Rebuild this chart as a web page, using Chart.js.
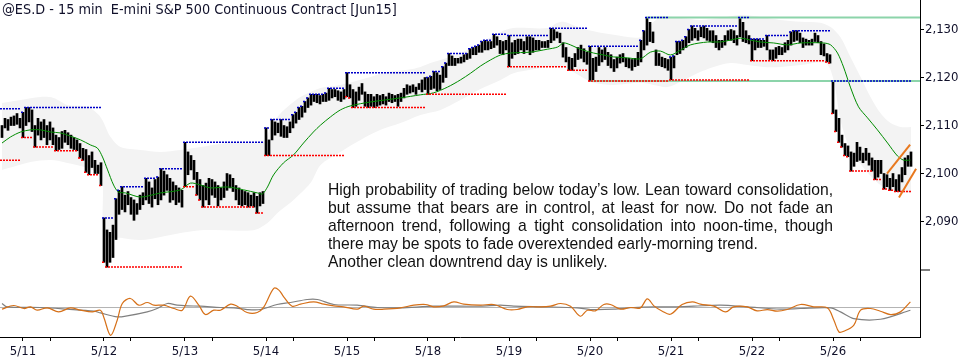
<!DOCTYPE html>
<html>
<head>
<meta charset="utf-8">
<script src="https://cdn.jsdelivr.net/npm/chart.js@4.4.1/dist/chart.umd.min.js"></script>
<style>
    html, body { margin: 0; padding: 0; background: #fff; }
</style>
</head>
<body>
<canvas id="es" width="960" height="360"></canvas>
<script>
// ---- bar data, 15 min, high / low per bar ----
var hi0508 = [2110.0, 2111.5, 2111.25, 2111.75, 2112.0, 2112.5, 2111.5];
var lo0508 = [2107.5, 2109.5, 2109.0, 2110.0, 2110.0, 2110.25, 2109.5];
var prior0508 = [2113.5, 2102.75]; // 5/8 session high / low made before the visible bars

var hi0511 = [2112.75, 2113.75, 2113.75, 2113.25, 2110.0, 2111.5, 2110.75, 2111.25, 2110.0, 2110.75, 2109.5, 2108.0, 2107.5, 2108.75, 2109.0, 2108.5, 2108.0, 2107.5, 2107.0, 2106.25, 2105.25, 2105.0, 2103.75, 2104.5, 2102.75, 2101.75, 2102.25];
var lo0511 = [2107.5, 2110.0, 2110.75, 2108.75, 2105.5, 2108.0, 2107.0, 2107.5, 2106.0, 2107.0, 2106.0, 2104.75, 2105.0, 2105.25, 2106.5, 2106.0, 2105.25, 2105.0, 2104.75, 2103.25, 2102.75, 2100.25, 2099.75, 2101.25, 2100.0, 2100.0, 2097.5];

var hi0512 = [2090.75, 2088.25, 2087.75, 2089.25, 2094.75, 2096.5, 2097.25, 2095.5, 2096.25, 2095.0, 2094.5, 2093.75, 2095.5, 2096.0, 2099.0, 2098.25, 2097.0, 2098.75, 2099.25, 2101.0, 2100.5, 2099.75, 2099.0, 2098.25, 2097.5, 2097.0, 2096.5];
var lo0512 = [2081.5, 2080.5, 2081.5, 2082.5, 2086.25, 2091.5, 2092.5, 2092.0, 2093.5, 2091.5, 2090.25, 2091.5, 2092.5, 2093.5, 2094.5, 2093.75, 2093.0, 2094.75, 2093.5, 2094.5, 2095.5, 2096.5, 2094.0, 2094.5, 2093.5, 2094.0, 2093.0];

var hi0513 = [2106.5, 2104.5, 2103.75, 2102.75, 2100.25, 2098.75, 2097.5, 2098.0, 2099.0, 2098.75, 2098.25, 2097.5, 2097.0, 2098.25, 2100.0, 2099.75, 2099.0, 2097.5, 2097.0, 2096.5, 2096.25, 2096.0, 2095.5, 2096.0, 2095.25, 2096.0, 2096.25];
var lo0513 = [2097.25, 2099.75, 2100.75, 2098.75, 2095.5, 2094.5, 2093.0, 2094.5, 2093.5, 2095.5, 2095.0, 2093.25, 2094.5, 2095.0, 2096.5, 2097.0, 2096.25, 2094.5, 2093.5, 2093.25, 2093.5, 2093.0, 2093.25, 2093.0, 2091.75, 2093.25, 2093.75];

var hi0514 = [2109.5, 2107.0, 2111.25, 2110.75, 2110.5, 2111.25, 2110.0, 2109.75, 2110.75, 2112.25, 2112.75, 2113.75, 2114.0, 2115.0, 2115.75, 2116.5, 2116.5, 2116.5, 2116.25, 2116.5, 2116.75, 2117.75, 2117.5, 2117.5, 2117.25, 2117.0, 2117.5];
var lo0514 = [2103.75, 2103.75, 2107.0, 2108.0, 2108.5, 2107.75, 2107.5, 2107.5, 2108.5, 2109.5, 2110.5, 2111.25, 2111.75, 2112.75, 2113.75, 2114.25, 2115.0, 2114.75, 2114.5, 2115.0, 2115.0, 2115.25, 2115.75, 2116.0, 2115.25, 2115.0, 2115.5];

var hi0515 = [2121.0, 2118.5, 2117.5, 2117.0, 2118.0, 2118.75, 2117.0, 2116.5, 2116.5, 2116.0, 2116.5, 2116.25, 2116.5, 2116.0, 2116.75, 2116.5, 2116.25, 2116.5, 2116.75, 2117.75, 2118.5, 2118.25, 2118.5, 2118.0, 2118.75, 2119.5, 2120.0];
var lo0515 = [2116.0, 2115.75, 2113.75, 2114.0, 2115.25, 2116.5, 2114.0, 2113.75, 2114.0, 2113.75, 2114.0, 2114.25, 2114.5, 2114.25, 2115.0, 2114.75, 2115.0, 2114.0, 2115.0, 2115.75, 2116.5, 2116.75, 2117.0, 2116.5, 2117.5, 2117.0, 2117.5];

var hi0518 = [2120.0, 2120.25, 2121.25, 2121.0, 2120.5, 2122.25, 2123.0, 2125.0, 2124.5, 2124.0, 2124.0, 2124.25, 2124.75, 2125.0, 2126.0, 2126.25, 2126.5, 2126.75, 2127.5, 2127.75, 2127.5, 2127.5, 2129.0, 2128.5, 2127.75, 2127.5, 2127.75];
var lo0518 = [2116.5, 2117.5, 2117.75, 2117.25, 2117.5, 2119.0, 2120.0, 2122.5, 2122.5, 2122.5, 2123.0, 2123.0, 2123.25, 2123.75, 2124.0, 2124.75, 2124.75, 2125.25, 2125.25, 2125.75, 2125.75, 2126.0, 2126.25, 2126.75, 2125.0, 2124.75, 2125.75];

var hi0519 = [2128.75, 2127.25, 2127.75, 2128.0, 2128.0, 2127.5, 2128.5, 2128.5, 2128.25, 2127.75, 2127.75, 2127.5, 2127.5, 2127.75, 2130.25, 2130.0, 2129.5, 2129.25, 2127.25, 2126.25, 2124.25, 2124.0, 2125.0, 2126.25, 2126.75, 2126.0, 2125.25];
var lo0519 = [2122.25, 2124.0, 2124.75, 2125.0, 2125.75, 2125.0, 2125.75, 2124.75, 2125.25, 2125.75, 2125.75, 2126.25, 2126.25, 2126.25, 2127.25, 2127.75, 2128.25, 2127.25, 2124.25, 2123.25, 2121.5, 2121.5, 2122.25, 2123.75, 2124.0, 2123.25, 2122.75];

var hi0520 = [2126.5, 2124.0, 2124.25, 2126.25, 2125.75, 2126.25, 2125.25, 2124.75, 2123.75, 2124.25, 2124.75, 2125.0, 2124.0, 2124.0, 2123.75, 2124.0, 2125.25, 2127.75, 2129.75, 2132.5, 2131.5, 2129.5, 2125.75, 2125.0, 2124.25, 2124.0, 2123.75];
var lo0520 = [2119.25, 2119.5, 2121.25, 2122.5, 2123.25, 2123.75, 2122.5, 2122.0, 2121.25, 2122.0, 2123.0, 2123.25, 2122.25, 2122.0, 2121.5, 2122.25, 2122.5, 2123.25, 2125.75, 2126.75, 2127.5, 2127.25, 2122.5, 2122.5, 2122.25, 2122.0, 2121.5];

var hi0521 = [2124.25, 2124.5, 2127.5, 2127.5, 2127.75, 2128.5, 2130.0, 2130.75, 2130.25, 2129.75, 2130.5, 2130.75, 2130.25, 2129.75, 2129.75, 2128.75, 2127.75, 2127.75, 2128.75, 2129.75, 2130.0, 2129.75, 2128.75, 2132.5, 2131.5, 2129.75, 2128.75];
var lo0521 = [2119.5, 2122.0, 2124.75, 2125.0, 2125.75, 2126.25, 2127.25, 2127.75, 2128.25, 2127.75, 2128.5, 2128.25, 2127.75, 2127.5, 2127.25, 2126.25, 2125.75, 2126.25, 2126.75, 2127.75, 2127.75, 2127.25, 2126.75, 2128.5, 2127.5, 2127.25, 2127.0];

var hi0522 = [2128.0, 2128.0, 2128.0, 2127.75, 2127.75, 2128.75, 2125.75, 2125.75, 2126.25, 2126.5, 2126.25, 2127.25, 2127.75, 2129.5, 2129.75, 2129.75, 2129.25, 2128.25, 2128.0, 2127.75, 2128.0, 2129.25, 2128.75, 2127.5, 2127.0, 2125.0, 2124.75];
var lo0522 = [2123.5, 2125.75, 2126.25, 2126.25, 2126.5, 2125.75, 2123.75, 2123.5, 2124.0, 2124.75, 2124.75, 2125.25, 2125.75, 2126.75, 2127.5, 2127.75, 2127.25, 2126.25, 2126.75, 2126.75, 2126.75, 2127.5, 2127.25, 2124.75, 2124.5, 2123.25, 2123.0];

var hi0526 = [2119.25, 2113.25, 2111.5, 2108.0, 2106.25, 2105.75, 2104.5, 2104.25, 2106.5, 2105.5, 2104.25, 2105.25, 2104.25, 2103.25, 2102.75, 2102.75, 2102.75, 2100.0, 2099.75, 2099.0, 2100.0, 2098.75, 2099.75, 2101.25, 2103.25, 2103.75, 2104.5];
var lo0526 = [2112.5, 2108.75, 2106.5, 2105.5, 2103.75, 2103.5, 2100.5, 2101.5, 2102.5, 2102.75, 2102.25, 2102.75, 2101.75, 2100.5, 2098.75, 2099.25, 2100.0, 2096.75, 2097.25, 2096.5, 2097.25, 2096.25, 2096.25, 2098.25, 2099.75, 2101.5, 2101.5];

var dayLabels = ['5/11', '5/12', '5/13', '5/14', '5/15', '5/18', '5/19', '5/20', '5/21', '5/22', '5/26'];
var priceTicks = [2090, 2100, 2110, 2120, 2130];

// ---- study lines, read at sparse points [bar index, value] ----
var maPoints = [[0, 2106.35], [2.8, 2107.6], [6.2, 2108.65], [9.5, 2109.1], [12.8, 2109.1], [16.2, 2108.65], [19.5, 2108.45], [22.8, 2107.8], [26.2, 2107.0], [29.5, 2105.95], [31.8, 2105.3], [33.5, 2103.45], [35.2, 2100.75], [37.2, 2097.6], [38.8, 2096.15], [41.2, 2095.95], [46.2, 2095.1], [52.8, 2095.95], [59.5, 2096.6], [62.8, 2098.0], [66.2, 2097.6], [69.5, 2097.0], [75.2, 2097.2], [80.5, 2096.6], [85.2, 2095.95], [86.8, 2095.75], [88.5, 2097.2], [90.5, 2099.7], [93.8, 2102.2], [97.2, 2103.9], [100.5, 2106.35], [103.8, 2108.65], [106.2, 2110.1], [109.5, 2111.8], [112.8, 2113.25], [116.2, 2114.1], [122.8, 2114.9], [132.8, 2115.75], [139.5, 2116.4], [143.8, 2116.8], [148.5, 2118.0], [152.8, 2119.5], [156.2, 2120.9], [159.5, 2122.4], [162.8, 2123.65], [166.2, 2124.7], [169.5, 2125.1], [176.2, 2125.3], [181.8, 2125.9], [185.2, 2126.35], [187.2, 2127.2], [189.5, 2126.8], [191.8, 2126.15], [193.8, 2125.7], [197.2, 2125.1], [200.5, 2124.7], [203.8, 2124.3], [208.5, 2124.1], [212.8, 2123.9], [216.2, 2125.3], [219.5, 2125.5], [222.8, 2124.7], [226.2, 2125.7], [229.5, 2126.8], [235.2, 2127.4], [239.5, 2127.4], [242.8, 2127.8], [246.2, 2128.2], [249.5, 2127.8], [252.8, 2127.4], [257.2, 2127.2], [261.8, 2126.8], [266.2, 2127.2], [273.8, 2127.2], [276.2, 2126.8], [278.5, 2125.1], [280.5, 2122.2], [282.8, 2118.0], [285.5, 2113.9], [288.5, 2111.6], [291.8, 2109.1], [295.2, 2106.35], [298.5, 2103.65], [300.5, 2102.8], [302.8, 2102.8]];

var bandUpper = [[0, 2114.7], [6.2, 2115.3], [12.8, 2115.95], [17.2, 2115.75], [21.8, 2114.3], [28.5, 2113.9], [32.8, 2111.8], [36.2, 2107.6], [39.5, 2105.5], [46.2, 2104.9], [52.8, 2104.5], [59.5, 2104.9], [66.2, 2105.5], [75.2, 2106.35], [86.2, 2106.35], [87.8, 2107.0], [89.5, 2109.7], [91.8, 2111.8], [95.2, 2113.9], [99.5, 2115.95], [106.2, 2117.8], [112.8, 2118.45], [122.8, 2120.1], [128.5, 2121.15], [135.2, 2121.6], [139.5, 2122.2], [142.8, 2123.0], [148.5, 2124.1], [152.8, 2125.1], [157.2, 2126.35], [159.5, 2127.2], [166.2, 2129.5], [170.5, 2130.3], [181.8, 2130.3], [185.2, 2131.4], [187.2, 2131.6], [190.5, 2130.9], [195.2, 2129.9], [203.8, 2128.9], [212.8, 2128.4], [216.2, 2130.9], [219.5, 2132.6], [226.2, 2132.4], [232.8, 2132.0], [239.5, 2132.4], [246.2, 2133.0], [252.8, 2132.6], [259.5, 2132.0], [266.2, 2131.6], [272.8, 2131.4], [276.2, 2130.5], [279.5, 2128.4], [282.8, 2124.3], [286.2, 2120.1], [289.5, 2115.95], [292.8, 2112.6], [296.2, 2110.5], [299.5, 2109.7], [303, 2109.7]];
var bandLower = [[0, 2100.75], [3.8, 2101.4], [9.5, 2102.4], [16.2, 2102.8], [21.8, 2102.2], [27.2, 2101.4], [31.8, 2100.1], [33.5, 2098.25], [34.2, 2087.2], [39.5, 2086.6], [46.2, 2086.15], [52.8, 2086.8], [59.5, 2087.6], [66.2, 2088.2], [83.8, 2088.2], [88.5, 2089.7], [91.8, 2091.8], [97.2, 2094.5], [102.8, 2098.0], [106.2, 2101.8], [112.8, 2104.5], [119.5, 2107.0], [126.2, 2109.1], [132.8, 2110.5], [139.5, 2112.2], [146.2, 2113.25], [152.8, 2115.3], [159.5, 2117.6], [166.2, 2119.5], [170.5, 2120.9], [176.2, 2121.6], [181.8, 2122.2], [187.2, 2122.2], [190.5, 2121.15], [193.8, 2119.9], [197.2, 2118.9], [203.8, 2118.45], [212.8, 2118.9], [217.2, 2118.45], [221.8, 2118.0], [226.2, 2119.1], [231.8, 2120.9], [237.2, 2122.2], [242.8, 2123.0], [248.5, 2122.6], [253.8, 2122.2], [259.5, 2122.2], [266.2, 2122.6], [274.5, 2123.0], [277.2, 2119.5], [279.5, 2111.15], [282.8, 2104.9], [287.8, 2100.75], [292.8, 2097.6], [297.8, 2096.15], [303, 2095.95]];

// lower pane oscillator
var oscFast = [[0, -0.5], [3.9, 0.6], [7.3, -0.3], [9.5, 0.2], [11.7, -0.8], [15.1, -0.1], [18.9, -1.3], [22.8, -0.1], [26.2, -0.8], [30.1, -1.3], [32.8, -0.8], [33.9, -2.8], [36.2, -8.3], [38.4, -3.8], [40.1, 1.2], [42.8, 2.7], [45.6, 0.7], [48.4, 1.5], [50.6, 0.7], [53.9, 0.7], [57.3, -0.3], [60.1, -0.8], [62.8, 3.4], [65.6, 0.7], [67.8, -2.1], [70.6, -0.8], [72.8, -0.8], [76.2, 1.0], [78.4, 0.4], [81.7, -1.5], [85.1, -1.5], [87.3, 0.2], [90.6, 5.7], [92.3, 5.2], [93.9, 3.2], [96.7, 0.4], [99.5, 1.0], [103.9, 1.7], [107.3, 1.0], [110.6, 0.5], [113.9, 0.2], [118.4, -0.5], [120.6, 0.4], [123.9, -0.5], [127.3, -0.5], [132.8, -0.1], [137.3, 0.7], [141.2, 0.9], [143.9, 0.2], [147.3, 0.5], [150.6, 1.7], [153.9, 1.0], [159.5, 0.7], [163.9, 0.9], [168.4, -0.6], [171.7, -0.6], [175.1, 0.2], [178.4, 0.2], [182.8, 0.4], [186.2, 1.2], [189.5, 0.4], [192.8, -2.6], [195.1, -0.8], [197.8, -1.0], [200.6, 0.9], [202.8, 0.9], [206.2, -0.5], [209.5, 0], [212.8, -0.1], [215.1, 2.6], [217.3, 0.5], [220.1, -1.1], [222.8, -2.0], [226.7, 0.9], [230.1, 1.7], [232.8, 1.0], [237.3, 0.4], [241.2, -1.3], [243.9, 0.2], [248.4, 0.2], [251.7, -1.0], [255.1, -0.6], [258.4, -1.1], [261.7, -0.6], [266.2, 0.9], [270.6, 0.2], [275.1, -0.1], [277.3, -3.8], [279, -7.3], [280.6, -7.1], [283.9, -5.3], [286.2, -0.8], [289.5, -0.3], [292.8, -1.1], [296.2, -2.1], [299.5, -1.3], [302.8, 1.7]];
var oscSlow = [[0, 1.2], [1.7, 0.2], [12.8, 0], [21.7, -0.5], [30.6, -1.1], [32.8, -1.6], [38.4, -2.8], [41.7, -2.5], [48.4, -1.3], [51.7, -0.3], [55.1, 1.2], [58.4, 0.7], [61.7, 0.5], [66.2, 0.4], [72.8, 0], [77.3, -0.1], [81.7, -0.6], [86.2, -0.6], [91.7, 0.9], [96.2, 1.5], [101.7, 2.4], [105.1, 2.4], [110.6, 0.9], [118.4, 0.7], [125.1, 0], [132.8, -0.1], [143.9, 0.4], [159.5, 0.4], [166.2, 0.7], [170.6, 0.4], [181.7, 0.2], [191.7, -0.1], [196.2, -0.6], [203.9, -0.5], [210.6, 0], [217.3, 0.2], [223.9, 0.2], [230.6, 0.4], [239.5, 0.7], [248.4, 0.2], [259.5, -0.5], [266.2, -0.3], [276.2, -0.1], [279.5, -1.3], [283.9, -3.3], [292.8, -3.5], [302.8, -0.8]];

// drawn levels: [from bar index, price]
var rangeTop = [214.8, 2132.5];
var rangeBottom = [196.2, 2119.25];
var channelUp = [[295.0, 2100.0], [302.7, 2106.0]];
var channelDn = [[299.0, 2095.0], [304.7, 2101.0]];

var titleText = '@ES.D - 15 min  E-mini S&P 500 Continuous Contract [Jun15]';
var noteLines = [
    'High probability of trading below today\u2019s low. Lean toward consolidation,',
    'but assume that bears are in control, at least for now. Do not fade an',
    'afternoon trend, following a tight consolidation into noon-time, though',
    'there may be spots to fade overextended early-morning trend.',
    'Another clean downtrend day is unlikely.'
];

var sessions = [
    [hi0508, lo0508, prior0508], [hi0511, lo0511], [hi0512, lo0512], [hi0513, lo0513],
    [hi0514, lo0514], [hi0515, lo0515], [hi0518, lo0518], [hi0519, lo0519],
    [hi0520, lo0520], [hi0521, lo0521], [hi0522, lo0522], [hi0526, lo0526]
];

var X_MIN = -2 / 3, X_MAX = 306;
var tickFont = '"DejaVu Sans Condensed", "DejaVu Sans", sans-serif';

// bars + running session high / low
var barData = [], hodData = [], lodData = [], majorTicks = [], minorTicks = [];
var idx = 0;

function pushLevel(arr, i, v) {
    var last = arr[arr.length - 1];
    if (last && last.y === v) {
        last.x = i + 1 / 3;
        return;
    }
    if (last && last.y !== null) arr.push({x: i - 2 / 3, y: null});
    arr.push({x: i - 2 / 3, y: v});
    arr.push({x: i + 1 / 3, y: v});
}

sessions.forEach(function (s, d) {
    var runHi = s[2] ? s[2][0] : -Infinity;
    var runLo = s[2] ? s[2][1] : Infinity;
    if (d > 0) {
        majorTicks.push(idx);
        minorTicks.push(idx + 9);
    }
    for (var k = 0; k < s[0].length; k++) {
        barData.push({x: idx, y: [s[1][k], s[0][k]]});
        runHi = Math.max(runHi, s[0][k]);
        runLo = Math.min(runLo, s[1][k]);
        pushLevel(hodData, idx, runHi);
        pushLevel(lodData, idx, runLo);
        idx++;
    }
    hodData.push({x: idx - 0.5, y: null});
    lodData.push({x: idx - 0.5, y: null});
});

function pairs(list) {
    return list.map(function (p) { return {x: p[0], y: p[1]}; });
}

function lineSet(data, color, width, axis, order, extra) {
    var ds = {
        type: 'line', data: data, borderColor: color, borderWidth: width,
        pointRadius: 0, fill: false, yAxisID: axis, order: order, spanGaps: false
    };
    for (var key in extra) ds[key] = extra[key];
    return ds;
}

function drawJustified(ctx, text, x, y, width) {
    var words = text.split(' ');
    var total = 0;
    words.forEach(function (w) { total += ctx.measureText(w).width; });
    var gap = (width - total) / (words.length - 1);
    var cx = x;
    words.forEach(function (w) {
        ctx.fillText(w, cx, y);
        cx += ctx.measureText(w).width + gap;
    });
}

var overlay = {
    id: 'overlay',
    afterDraw: function (chart) {
        var ctx = chart.ctx;
        ctx.save();
        ctx.fillStyle = '#10102a';
        ctx.textBaseline = 'middle';
        ctx.textAlign = 'left';
        ctx.font = '14.3px ' + tickFont;
        ctx.fillText(titleText, 2, 10);

        // note text: size so the unjustified 4th line is 430px wide
        var face = '"Liberation Sans", Arial, sans-serif';
        ctx.font = '100px ' + face;
        var size = 100 * 430 / ctx.measureText(noteLines[3]).width;
        ctx.font = size.toFixed(2) + 'px ' + face;
        ctx.fillStyle = '#111';
        noteLines.forEach(function (line, i) {
            var y = 191 + i * 17.8;
            if (i < 3) drawJustified(ctx, line, 328, y, 505);
            else ctx.fillText(line, 328, y);
        });

        // pane separator mark on the price axis
        var yo = chart.scales.yo;
        ctx.fillStyle = '#000';
        ctx.fillRect(yo.left, Math.round(yo.top) - 0.5, 10, 1);
        ctx.restore();
    }
};

var datasets = [
    lineSet(pairs(bandUpper), 'rgba(0,0,0,0)', 0, 'y', 30, {fill: '+1', backgroundColor: 'rgb(243,243,243)', tension: 0.3}),
    lineSet(pairs(bandLower), 'rgba(0,0,0,0)', 0, 'y', 31, {tension: 0.3}),
    {
        type: 'bar', data: barData, backgroundColor: '#000', borderWidth: 0,
        barThickness: 2, grouped: false, yAxisID: 'y', order: 20
    },
    lineSet(pairs(maPoints), 'rgb(0,140,0)', 1, 'y', 8, {tension: 0.3}),
    lineSet(hodData, '#0000c8', 1.5, 'y', 6, {borderDash: [2, 1]}),
    lineSet(lodData, '#ff0000', 1.5, 'y', 6, {borderDash: [2, 1]}),
    lineSet([{x: rangeTop[0], y: rangeTop[1]}, {x: X_MAX, y: rangeTop[1]}], 'rgb(140,212,170)', 2, 'y', 7),
    lineSet([{x: rangeBottom[0], y: rangeBottom[1]}, {x: X_MAX, y: rangeBottom[1]}], 'rgb(140,212,170)', 2, 'y', 7),
    lineSet(pairs(channelUp), 'rgb(232,120,30)', 2, 'y', 2),
    lineSet(pairs(channelDn), 'rgb(232,120,30)', 2, 'y', 2),
    lineSet([{x: X_MIN, y: 0}, {x: X_MAX, y: 0}], '#b4b4b4', 1, 'yo', 5),
    lineSet(pairs(oscSlow), '#808080', 1.2, 'yo', 4, {tension: 0.3}),
    lineSet(pairs(oscFast), 'rgb(214,112,24)', 1.2, 'yo', 3, {tension: 0.35})
];

function fixSide(s) {
    s.width = 40;
    s.paddingTop = 0;
    s.paddingBottom = 0;
}

new Chart(document.getElementById('es').getContext('2d'), {
    type: 'bar',
    data: {datasets: datasets},
    options: {
        responsive: false,
        animation: false,
        devicePixelRatio: 1,
        layout: {padding: 0},
        plugins: {legend: {display: false}, tooltip: {enabled: false}, title: {display: false}},
        events: [],
        scales: {
            x: {
                type: 'linear', position: 'bottom', min: X_MIN, max: X_MAX, offset: false,
                grid: {drawOnChartArea: false, drawTicks: true, tickLength: 4, color: '#000', offset: false},
                border: {color: '#000'},
                afterBuildTicks: function (s) {
                    s.ticks = majorTicks.concat(minorTicks).sort(function (a, b) { return a - b; })
                        .map(function (v) { return {value: v}; });
                },
                ticks: {
                    autoSkip: false, maxRotation: 0, padding: 3, color: '#10102a',
                    font: {family: tickFont, size: 13},
                    callback: function (v) {
                        var j = majorTicks.indexOf(v);
                        return j >= 0 ? dayLabels[j] : '';
                    }
                },
                afterFit: function (s) {
                    s.height = 23;
                    s.paddingLeft = 0;
                    s.paddingRight = 0;
                }
            },
            y: {
                type: 'linear', position: 'right', stack: 'panes', stackWeight: 270,
                min: 2079.9, max: 2136.15,
                grid: {drawOnChartArea: false, drawTicks: true, tickLength: 4, color: '#000'},
                border: {color: '#000'},
                afterBuildTicks: function (s) {
                    s.ticks = priceTicks.map(function (v) { return {value: v}; });
                },
                ticks: {
                    padding: 1, color: '#10102a', font: {family: tickFont, size: 13},
                    callback: function (v) { return v.toLocaleString('en-US'); }
                },
                afterFit: fixSide
            },
            yo: {
                type: 'linear', position: 'right', stack: 'panes', stackWeight: 67,
                min: -8.8, max: 11.2,
                grid: {drawOnChartArea: false, drawTicks: false},
                border: {color: '#000'},
                ticks: {display: false},
                afterFit: fixSide
            }
        }
    },
    plugins: [overlay]
});
</script>
</body>
</html>
